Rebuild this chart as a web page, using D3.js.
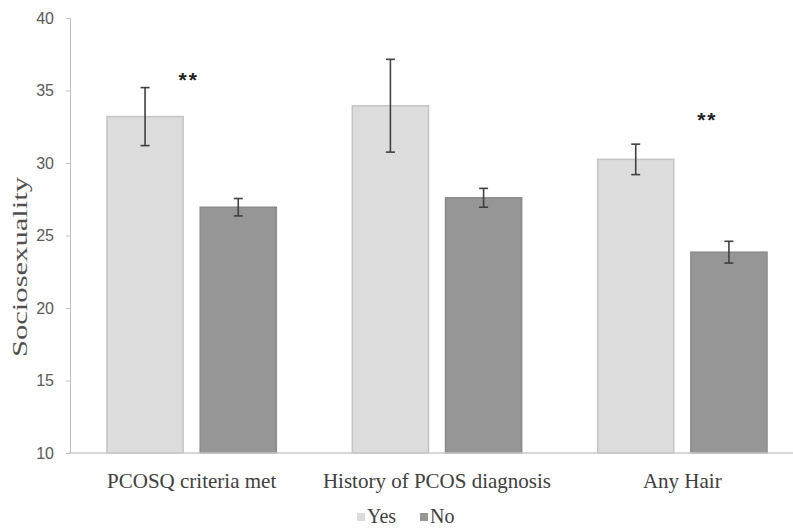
<!DOCTYPE html>
<html>
<head>
<meta charset="utf-8">
<script src="https://cdn.jsdelivr.net/npm/d3@7"></script>
<style>
  body { margin: 0; background: #fff; }
  svg { display: block; }
</style>
</head>
<body>
<svg id="chart"></svg>
<script>
// --- data ---
const categories = ["PCOSQ criteria met", "History of PCOS diagnosis", "Any Hair"];
const groups = ["Yes", "No"];
const yesMeans = [33.2, 33.95, 30.25];
const yesErr = [2.0, 3.2, 1.05];
const noMeans = [26.95, 27.6, 23.85];
const noErr = [0.6, 0.65, 0.75];
const yTicks = [10, 15, 20, 25, 30, 35, 40];
// significance marks: label and height in data units
const sigLabels = ["**", "", "**"];
const sigLevel = [35.9, null, 33.2];

const width = 793;
const height = 529;

const svg = d3.select("#chart")
  .attr("width", width)
  .attr("height", height);

const rows = [];
categories.forEach((c, i) => {
  rows.push({ cat: c, group: "Yes", mean: yesMeans[i], err: yesErr[i] });
  rows.push({ cat: c, group: "No", mean: noMeans[i], err: noErr[i] });
});

// --- scales ---
const x0 = d3.scaleBand()
  .domain(categories)
  .range([69, 805])
  .padding(0);

const x1 = d3.scaleBand()
  .domain(groups)
  .range([38, x0.bandwidth() - 38])
  .paddingInner(0.183);

const y = d3.scaleLinear()
  .domain([10, 40])
  .range([453, 18]);

const color = d3.scaleOrdinal()
  .domain(groups)
  .range(["#dcdcdc", "#969696"]);
const edge = d3.scaleOrdinal()
  .domain(groups)
  .range(["#c4c4c4", "#8a8a8a"]);

// --- y axis ---
const yAxis = svg.append("g")
  .attr("transform", "translate(70,0)")
  .call(d3.axisLeft(y).tickValues(yTicks).tickSize(4).tickPadding(12));

yAxis.select(".domain").attr("stroke", "#c0c0c0");
yAxis.selectAll(".tick line").attr("stroke", "#c0c0c0");
yAxis.selectAll(".tick text")
  .attr("fill", "#595959")
  .attr("font-family", "'Liberation Sans', Arial, sans-serif")
  .attr("font-size", "16px");

svg.append("text")
  .attr("transform", "translate(27,267) rotate(-90)")
  .attr("text-anchor", "middle")
  .attr("font-family", "'Liberation Serif', 'Times New Roman', serif")
  .attr("font-size", "21px")
  .attr("fill", "#505050")
  .attr("textLength", 180)
  .attr("lengthAdjust", "spacingAndGlyphs")
  .text("Sociosexuality");

// --- bars ---
const barG = svg.append("g");

barG.selectAll("rect")
  .data(rows)
  .join("rect")
  .attr("x", d => x0(d.cat) + x1(d.group))
  .attr("y", d => y(d.mean))
  .attr("width", x1.bandwidth())
  .attr("height", d => y(10) - y(d.mean))
  .attr("fill", d => color(d.group))
  .attr("stroke", d => edge(d.group))
  .attr("stroke-width", 1.5);

// --- baseline ---
svg.append("line")
  .attr("x1", 69)
  .attr("x2", width)
  .attr("y1", y(10))
  .attr("y2", y(10))
  .attr("stroke", "#c8c8c8")
  .attr("stroke-width", 1.5);

// --- error bars ---
const errG = svg.append("g")
  .attr("stroke", "#404040")
  .attr("stroke-width", 1.6);

rows.forEach(d => {
  const cx = x0(d.cat) + x1(d.group) + x1.bandwidth() / 2;
  const top = y(d.mean + d.err);
  const bot = y(d.mean - d.err);
  errG.append("line").attr("x1", cx).attr("x2", cx).attr("y1", top).attr("y2", bot);
  errG.append("line").attr("x1", cx - 4.5).attr("x2", cx + 4.5).attr("y1", top).attr("y2", top);
  errG.append("line").attr("x1", cx - 4.5).attr("x2", cx + 4.5).attr("y1", bot).attr("y2", bot);
});

// --- significance marks ---
const sigShift = [-3, 0, 25];
categories.forEach((c, i) => {
  if (!sigLabels[i]) return;
  svg.append("text")
    .attr("x", x0(c) + x0.bandwidth() / 2 + sigShift[i])
    .attr("y", y(sigLevel[i]) + 10)
    .attr("text-anchor", "middle")
    .attr("font-family", "'Liberation Sans', Arial, sans-serif")
    .attr("font-weight", "bold")
    .attr("font-size", "21px")
    .attr("letter-spacing", "2px")
    .attr("fill", "#222")
    .text(sigLabels[i]);
});

// --- category labels ---
svg.append("g")
  .selectAll("text")
  .data(categories)
  .join("text")
  .attr("x", d => x0(d) + x0.bandwidth() / 2)
  .attr("y", 488)
  .attr("text-anchor", "middle")
  .attr("font-family", "'Liberation Serif', 'Times New Roman', serif")
  .attr("font-size", "21px")
  .attr("fill", "#404040")
  .text(d => d);

// --- legend ---
const legend = svg.append("g");
const legendX = [357, 420];
groups.forEach((g, i) => {
  legend.append("rect")
    .attr("x", legendX[i])
    .attr("y", 513)
    .attr("width", 8)
    .attr("height", 8)
    .attr("fill", color(g));
  legend.append("text")
    .attr("x", legendX[i] + 10)
    .attr("y", 523)
    .attr("font-family", "'Liberation Serif', 'Times New Roman', serif")
    .attr("font-size", "20px")
    .attr("fill", "#404040")
    .text(g);
});
</script>
</body>
</html>
